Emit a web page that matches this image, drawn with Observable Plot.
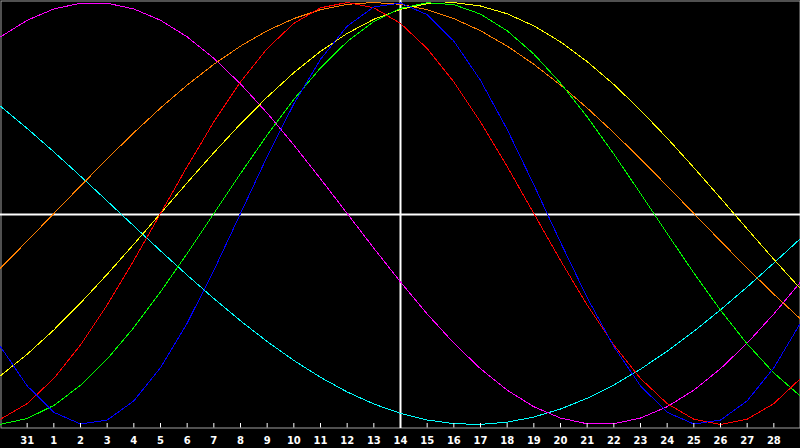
<!DOCTYPE html>
<html>
<head>
<meta charset="utf-8">
<script src="https://cdn.jsdelivr.net/npm/d3@7"></script>
<script src="https://cdn.jsdelivr.net/npm/@observablehq/plot@0.6"></script>
<style>
  html, body { margin: 0; padding: 0; background: #000; }
  #chart svg { display: block; }
</style>
</head>
<body>
<div id="chart"></div>
<script>
// Tick labels for day positions 0..28 (position -1 and 29 are the edges)
const tickLabels = ["31","1","2","3","4","5","6","7","8","9","10","11","12","13","14","15","16","17","18","19","20","21","22","23","24","25","26","27","28"];
const today = 14; // position of the crosshair

// Values at positions -1 .. 29
const physical = [-0.6311,-0.8170,-0.9423,-0.9977,-0.9791,-0.8879,-0.7308,-0.5196,-0.2698,0,0.2698,0.5196,0.7308,0.8879,0.9791,0.9977,0.9423,0.8170,0.6311,0.3984,0.1362,-0.1362,-0.3984,-0.6311,-0.8170,-0.9423,-0.9977,-0.9791,-0.8879,-0.7308,-0.5196];
const emotional = [-0.9749,-0.9010,-0.7818,-0.6235,-0.4339,-0.2225,0,0.2225,0.4339,0.6235,0.7818,0.9010,0.9749,1,0.9749,0.9010,0.7818,0.6235,0.4339,0.2225,0,-0.2225,-0.4339,-0.6235,-0.7818,-0.9010,-0.9749,-1,-0.9749,-0.9010,-0.7818];
const intellectual = [-0.9989,-0.9718,-0.9096,-0.8146,-0.6901,-0.5406,-0.3717,-0.1893,0,0.1893,0.3717,0.5406,0.6901,0.8146,0.9096,0.9718,0.9989,0.9898,0.9450,0.8660,0.7557,0.6182,0.4582,0.2817,0.0951,-0.0951,-0.2817,-0.4582,-0.6182,-0.7557,-0.8660];
const aesthetic = [-0.7687,-0.6673,-0.5517,-0.4245,-0.2881,-0.1456,0,0.1456,0.2881,0.4245,0.5517,0.6673,0.7687,0.8535,0.9204,0.9675,0.9940,0.9993,0.9834,0.9465,0.8893,0.8133,0.7200,0.6112,0.4894,0.3572,0.2174,0.0730,-0.0730,-0.2174,-0.3572];
const awareness = [-0.2588,-0.1305,0,0.1305,0.2588,0.3827,0.5,0.6088,0.7071,0.7934,0.8660,0.9239,0.9659,0.9914,1,0.9914,0.9659,0.9239,0.8660,0.7934,0.7071,0.6088,0.5,0.3827,0.2588,0.1305,0,-0.1305,-0.2588,-0.3827,-0.5];
const intuitive = [0.8372,0.9158,0.9694,0.9966,0.9966,0.9694,0.9158,0.8372,0.7357,0.6142,0.4759,0.3247,0.1646,0,-0.1646,-0.3247,-0.4759,-0.6142,-0.7357,-0.8372,-0.9158,-0.9694,-0.9966,-0.9966,-0.9694,-0.9158,-0.8372,-0.7357,-0.6142,-0.4759,-0.3247];
const spiritual = [0.5086,0.4031,0.2920,0.1769,0.0592,-0.0592,-0.1769,-0.2920,-0.4031,-0.5086,-0.6068,-0.6965,-0.7765,-0.8457,-0.9028,-0.9473,-0.9786,-0.9960,-0.9996,-0.9890,-0.9646,-0.9267,-0.8757,-0.8125,-0.7378,-0.6528,-0.5586,-0.4566,-0.3482,-0.2349,-0.1183];

const seriesNames = ["spiritual","intuitive","awareness","aesthetic","intellectual","emotional","physical"];
const seriesValues = [spiritual, intuitive, awareness, aesthetic, intellectual, emotional, physical];
const seriesColors = ["#00ffff","#ff00ff","#ff8000","#ffff00","#00ff00","#ff0000","#0000ff"];

const rows = seriesNames.flatMap((name, s) =>
  seriesValues[s].map((v, j) => ({series: name, pos: j - 1, v}))
);
const tickPositions = tickLabels.map((_, i) => i);

const chart = Plot.plot({
  width: 800,
  height: 448,
  marginTop: 2,
  marginBottom: 24,
  marginLeft: 0,
  marginRight: 0,
  style: {background: "#000", color: "#fff", fontFamily: "'DejaVu Sans', sans-serif"},
  x: {domain: [-1, 29], axis: null},
  y: {domain: [-1, 1], axis: null},
  color: {domain: seriesNames, range: seriesColors},
  marks: [
    Plot.frame({stroke: "#a0a0a0", insetTop: -1.5, insetBottom: -3.5, insetLeft: 0.5, insetRight: 0.5}),
    Plot.ruleY([0], {stroke: "#fff", strokeWidth: 2, dy: 1}),
    Plot.ruleX([today], {stroke: "#fff", strokeWidth: 2, insetTop: -2, insetBottom: -4}),
    Plot.line(rows, {x: "pos", y: "v", z: "series", stroke: "series", strokeWidth: 1, shapeRendering: "crispEdges"}),
    Plot.ruleX(tickPositions, {x: d => d, stroke: "#fff", strokeWidth: 1, insetTop: 421, insetBottom: -3.5}),
    Plot.axisX(tickPositions, {
      tickFormat: i => tickLabels[i],
      label: null,
      tickSize: 0,
      tickPadding: 12,
      fontSize: 10,
      fontWeight: "bold",
      fill: "#fff"
    })
  ]
});
document.getElementById("chart").appendChild(chart);
</script>
</body>
</html>
